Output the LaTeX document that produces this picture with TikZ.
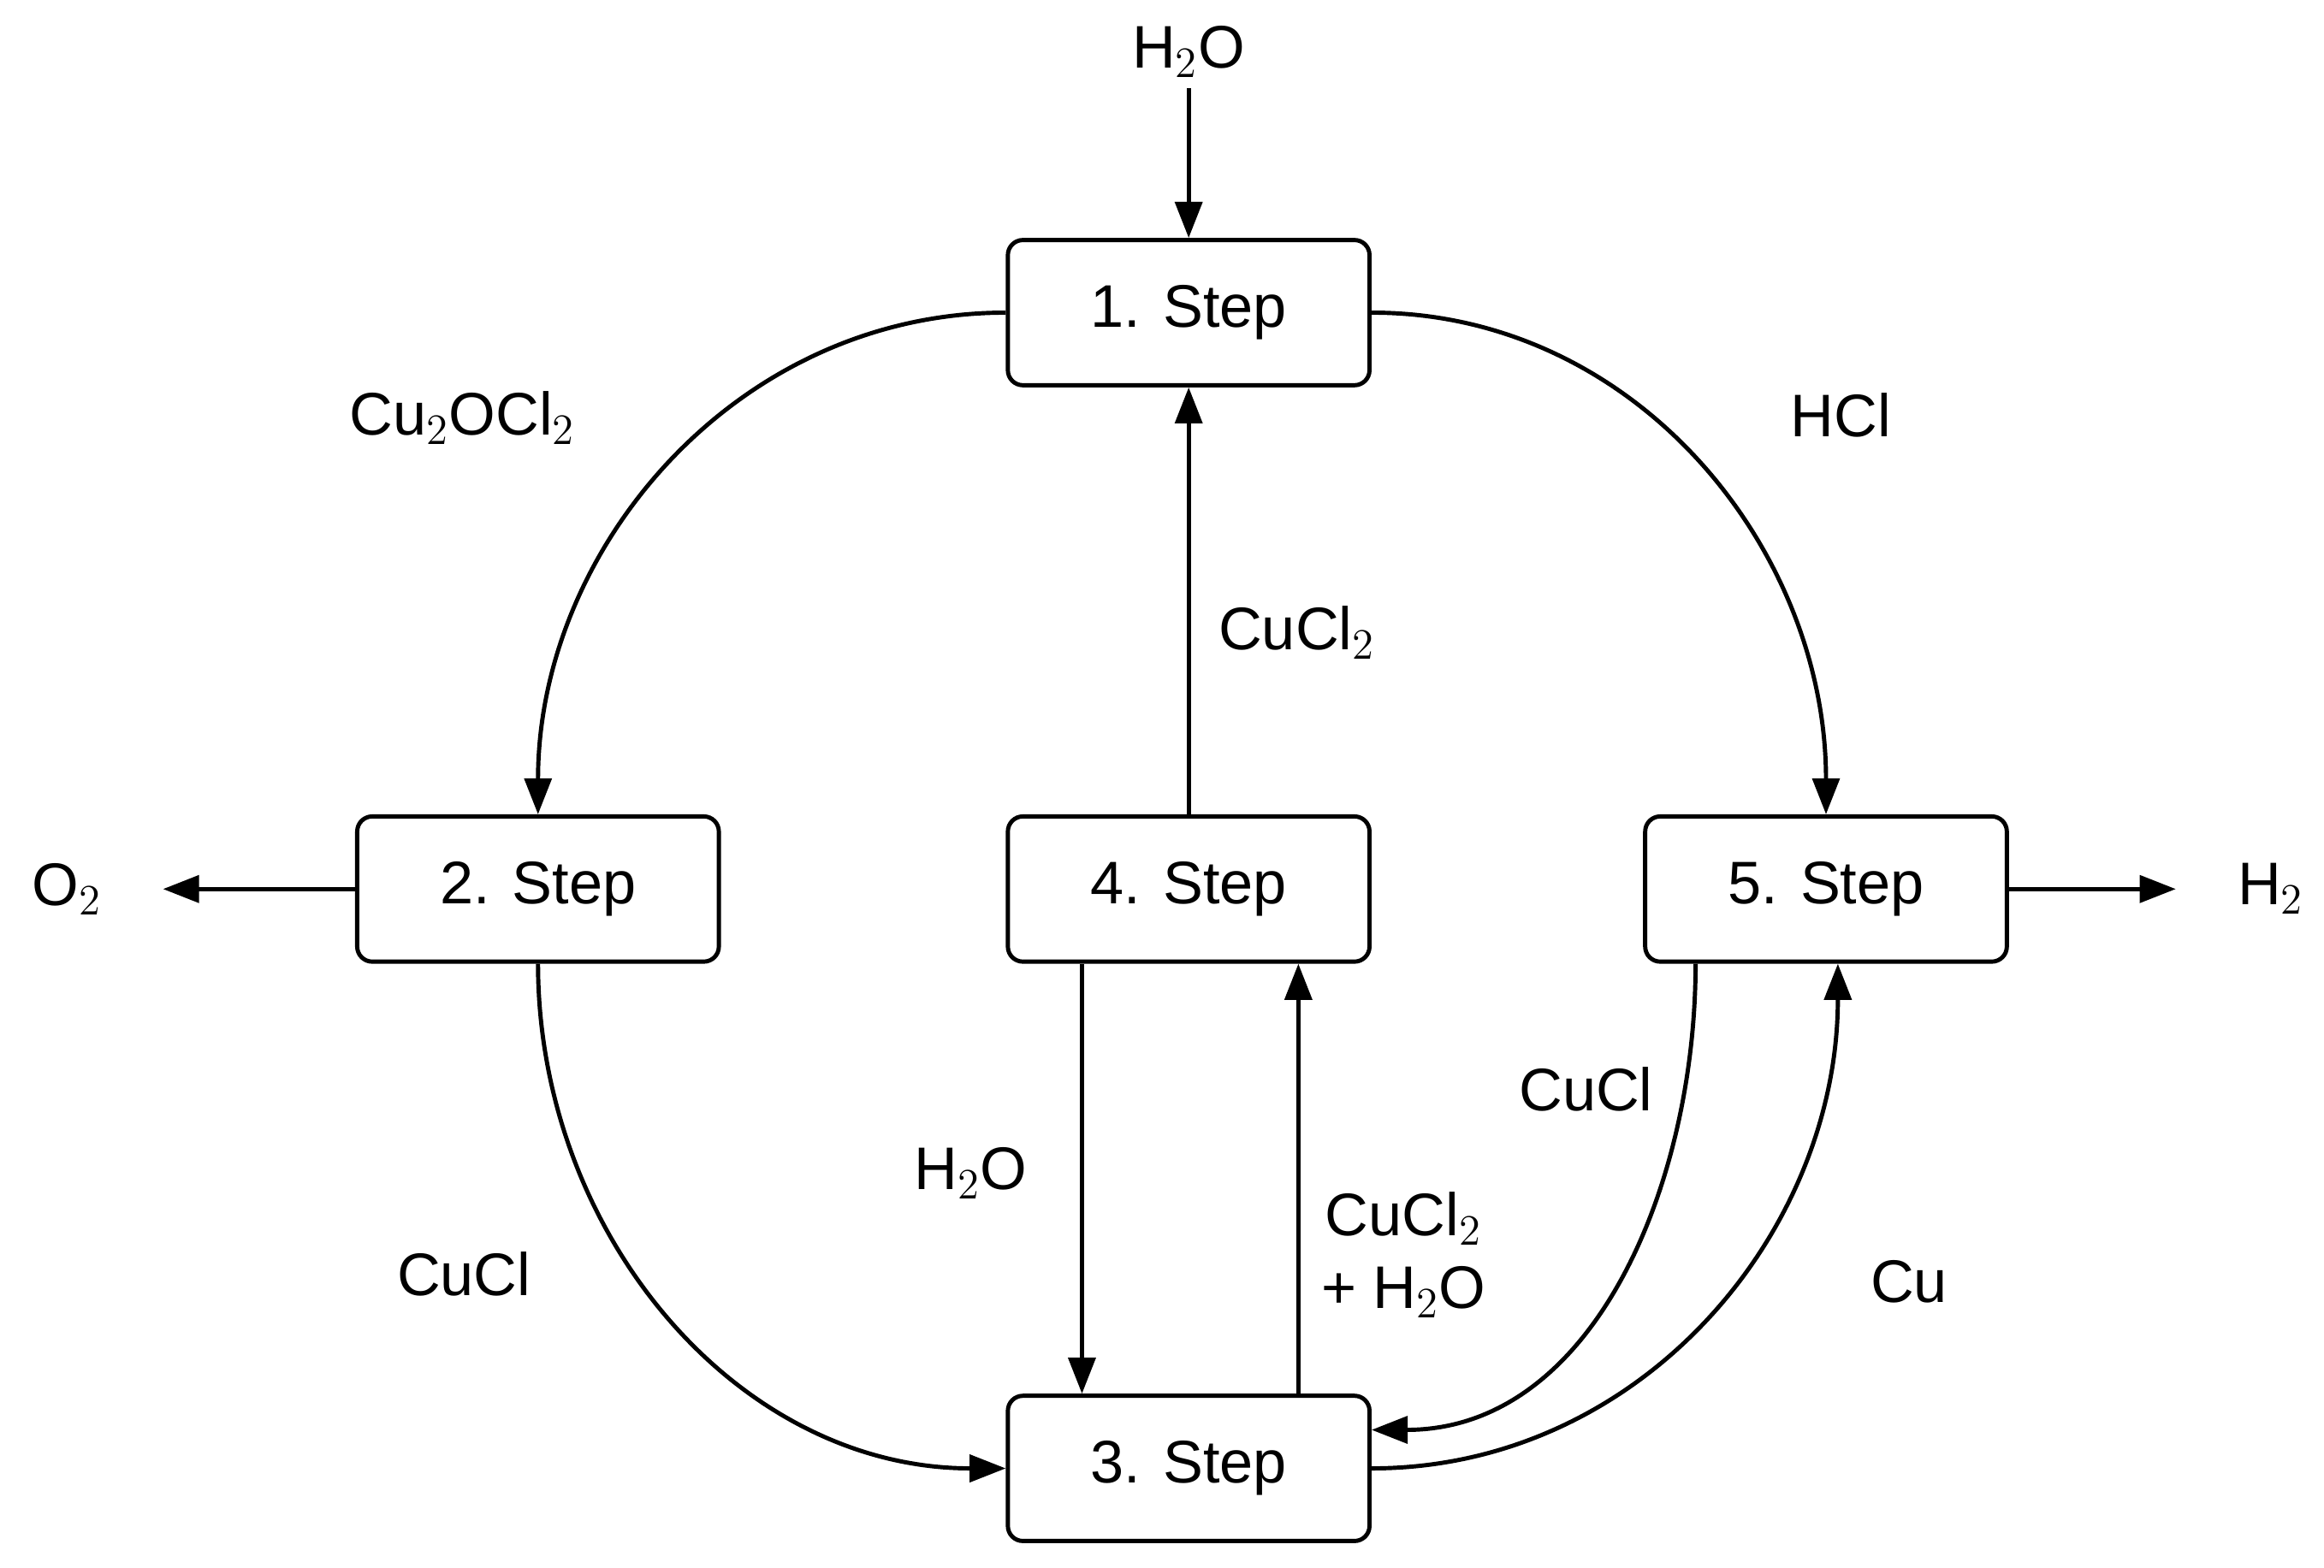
\documentclass[tikz,border=0pt]{standalone}
\usepackage{fontspec}
\setmainfont{Liberation Sans}
\usetikzlibrary{arrows.meta}
\begin{document}
\begin{tikzpicture}[x=0.01732cm,y=-0.01732cm,
  box/.style={draw,line width=1.4pt,rounded corners=5pt,minimum width=244*0.01732cm,minimum height=98*0.01732cm,font=\fontsize{20}{24}\selectfont},
  lbl/.style={font=\fontsize{20}{24}\selectfont},
  arr/.style={line width=1.4pt,-{Triangle[length=12pt,width=9pt]}}]
\useasboundingbox (0,0) rectangle (1568,1058);
\node[box] (s1) at (802,211) {1. Step};
\node[box] (s2) at (363,600) {2. Step};
\node[box] (s4) at (802,600) {4. Step};
\node[box] (s5) at (1232,600) {5. Step};
\node[box] (s3) at (802,991) {3. Step};
\node[lbl] (h2oin) at (802,35) {H$_2$O};
\node[lbl] (o2) at (45,600) {O$_2$};
\node[lbl] (h2) at (1532,600) {H$_2$};
\coordinate (o2e) at (110,600);
\coordinate (h2e) at (1468,600);
\node[lbl] at (312,282) {Cu$_2$OCl$_2$};
\node[lbl] at (1242,280) {HCl};
\node[lbl] at (875,427) {CuCl$_2$};
\node[lbl] at (655,792) {H$_2$O};
\node[lbl,align=center] at (947,847) {CuCl$_2$\\+ H$_2$O};
\node[lbl] at (1070,735) {CuCl};
\node[lbl] at (313,860) {CuCl};
\node[lbl] at (1288,865) {Cu};
\draw[arr] (h2oin.south) -- (s1.north);
\draw[arr] (s1.west) to[out=180,in=90] (s2.north);
\draw[arr] (s1.east) to[out=0,in=90] (s5.north);
\draw[arr] (s4.north) -- (s1.south);
\draw[arr] (s2.west) -- (o2e);
\draw[arr] (s5.east) -- (h2e);
\draw[arr] (s2.south) to[out=-90,in=180] (s3.west);
\draw[arr] (s4.south -| 730,0) -- (s3.north -| 730,0);
\draw[arr] (s3.north -| 876,0) -- (s4.south -| 876,0);
\draw[arr] (s5.south -| 1144,0) to[out=-90,in=0] (s3.east |- 0,965);
\draw[arr] (s3.east |- 0,991) to[out=0,in=-90] (s5.south -| 1240,0);
\end{tikzpicture}
\end{document}
